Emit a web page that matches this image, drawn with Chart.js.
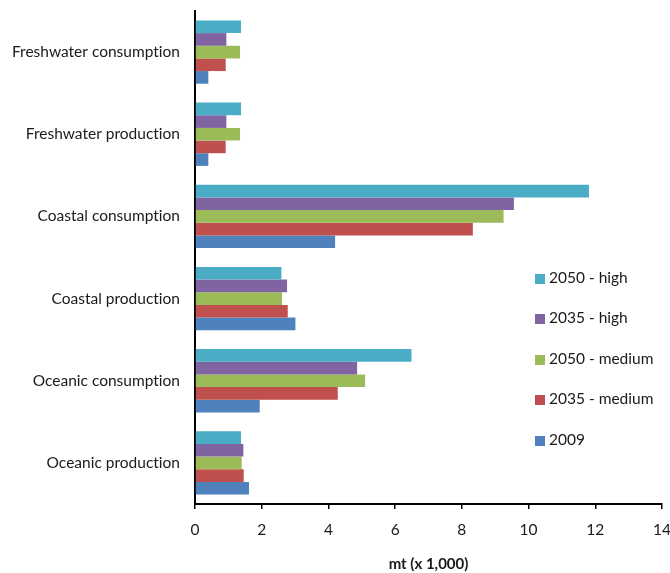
<!DOCTYPE html>
<html>
<head>
<meta charset="utf-8">
<script src="https://cdn.jsdelivr.net/npm/chart.js@4/dist/chart.umd.min.js"></script>
<style>
  body { margin: 0; background: #fff; }
  #wrap { position: relative; width: 670px; height: 573px; }
  #legend { position: absolute; left: 535px; top: 257px; font-family: Lato, sans-serif; font-size: 15.5px; color: #1a1a1a; font-variant-ligatures: none; }
  #legend div { height: 40.4px; line-height: 40.4px; white-space: nowrap; }
  #legend span { display: inline-block; width: 10px; height: 10px; margin-right: 4px; vertical-align: -1px; }
</style>
</head>
<body>
<div id="wrap">
  <canvas id="chart" width="670" height="573"></canvas>
  <div id="legend"></div>
</div>
<script>
// categories, top to bottom
var categories = ["Freshwater consumption", "Freshwater production", "Coastal consumption",
                  "Coastal production", "Oceanic consumption", "Oceanic production"];

// series (mt x 1,000)
var high2050   = [1.38, 1.38, 11.81, 2.59, 6.49, 1.38];
var high2035   = [0.94, 0.94, 9.56, 2.76, 4.86, 1.45];
var medium2050 = [1.35, 1.35, 9.25, 2.61, 5.10, 1.40];
var medium2035 = [0.92, 0.92, 8.33, 2.78, 4.28, 1.46];
var base2009   = [0.40, 0.40, 4.20, 3.01, 1.94, 1.62];

var seriesNames = ["2050 - high", "2035 - high", "2050 - medium", "2035 - medium", "2009"];
var seriesColors = ["#4BACC6", "#8064A2", "#9BBB59", "#C0504D", "#4F81BD"];
var seriesData = [high2050, high2035, medium2050, medium2035, base2009];

var xTicks = [0, 2, 4, 6, 8, 10, 12, 14];

var datasets = seriesNames.map(function(name, i) {
  return {
    label: name,
    data: seriesData[i],
    backgroundColor: seriesColors[i],
    borderWidth: 0,
    categoryPercentage: 0.77,
    barPercentage: 1.0
  };
});

// no ligatures (Calibri-like look)
var noLigatures = {
  id: 'noLigatures',
  beforeDraw: function(chart) { chart.ctx.textRendering = 'optimizeSpeed'; }
};

var ctx = document.getElementById("chart");
var myChart = new Chart(ctx, {
  type: 'bar',
  data: { labels: categories, datasets: datasets },
  plugins: [noLigatures],
  options: {
    indexAxis: 'y',
    responsive: false,
    animation: false,
    layout: { padding: { top: 11, right: 0, left: 10, bottom: 0 } },
    plugins: {
      legend: { display: false },
      tooltip: { enabled: false }
    },
    scales: {
      y: {
        grid: { display: false, drawTicks: false, tickLength: 0 },
        border: { display: true, color: '#000', width: 2 },
        ticks: { color: '#1a1a1a', padding: 15, font: { family: 'Lato', size: 15.5 } },
        afterFit: function(scale) { scale.width = 185; scale.paddingTop = 0; scale.paddingBottom = 0; }
      },
      x: {
        min: 0,
        max: 14,
        afterBuildTicks: function(scale) {
          scale.ticks = xTicks.map(function(v) { return { value: v }; });
        },
        afterFit: function(scale) { scale.height = 69; scale.paddingRight = 8; },
        grid: { drawOnChartArea: false, drawTicks: true, tickLength: 5, color: '#000', lineWidth: 1.5 },
        border: { display: true, color: '#000', width: 2 },
        ticks: { color: '#1a1a1a', padding: 12, font: { family: 'Lato', size: 15.5 } },
        title: {
          display: true,
          text: 'mt (x 1,000)',
          color: '#1a1a1a',
          font: { family: 'Lato', size: 15, weight: 'bold' },
          padding: { top: 4, bottom: 0 }
        }
      }
    }
  }
});

// legend
var legend = document.getElementById("legend");
seriesNames.forEach(function(name, i) {
  var row = document.createElement("div");
  var sw = document.createElement("span");
  sw.style.background = seriesColors[i];
  row.appendChild(sw);
  row.appendChild(document.createTextNode(name));
  legend.appendChild(row);
});
</script>
</body>
</html>
